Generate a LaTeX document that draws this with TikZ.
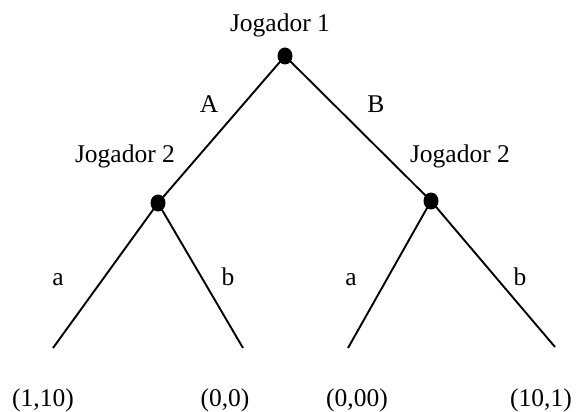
\documentclass[tikz,border=0pt]{standalone}
\usepackage{fontspec}
\setmainfont{Liberation Serif}
\usetikzlibrary{shapes.geometric}
\begin{document}
\begin{tikzpicture}[x=1pt,y=-1pt,
  dot/.style={ellipse,fill=black,inner sep=0pt,minimum width=15pt,minimum height=17pt},
  lbl/.style={inner sep=0pt,anchor=base,font=\fontsize{25.5}{30}\selectfont},
  edge/.style={line width=1.9pt}]
\useasboundingbox (0,0) rectangle (582,412);
\node[dot] (r) at (285,56) {};
\node[dot] (l) at (158,203) {};
\node[dot] (rr) at (431,201) {};
\coordinate (la) at (53,348);
\coordinate (lb) at (243,348);
\coordinate (ra) at (348,348);
\coordinate (rb) at (555,347);
\draw[edge] (r.center) -- (l.center);
\draw[edge] (r.center) -- (rr.center);
\draw[edge] (l.center) -- (la);
\draw[edge] (l.center) -- (lb);
\draw[edge] (rr.center) -- (ra);
\draw[edge] (rr.center) -- (rb);
\node[lbl] (t1) at (280,32) {Jogador 1};
\node[lbl] (t2) at (125,162) {Jogador 2};
\node[lbl] (t3) at (460,163) {Jogador 2};
\node[lbl] (tA) at (209,113) {A};
\node[lbl] (tB) at (376,113) {B};
\node[lbl] (ta1) at (58,285) {a};
\node[lbl] (tb1) at (228,285) {b};
\node[lbl] (ta2) at (351,285) {a};
\node[lbl] (tb2) at (520,285) {b};
\node[lbl] (p1) at (43,406) {(1,10)};
\node[lbl] (p2) at (225,406) {(0,0)};
\node[lbl] (p3) at (357,406) {(0,00)};
\node[lbl] (p4) at (541,406) {(10,1)};
\end{tikzpicture}
\end{document}
